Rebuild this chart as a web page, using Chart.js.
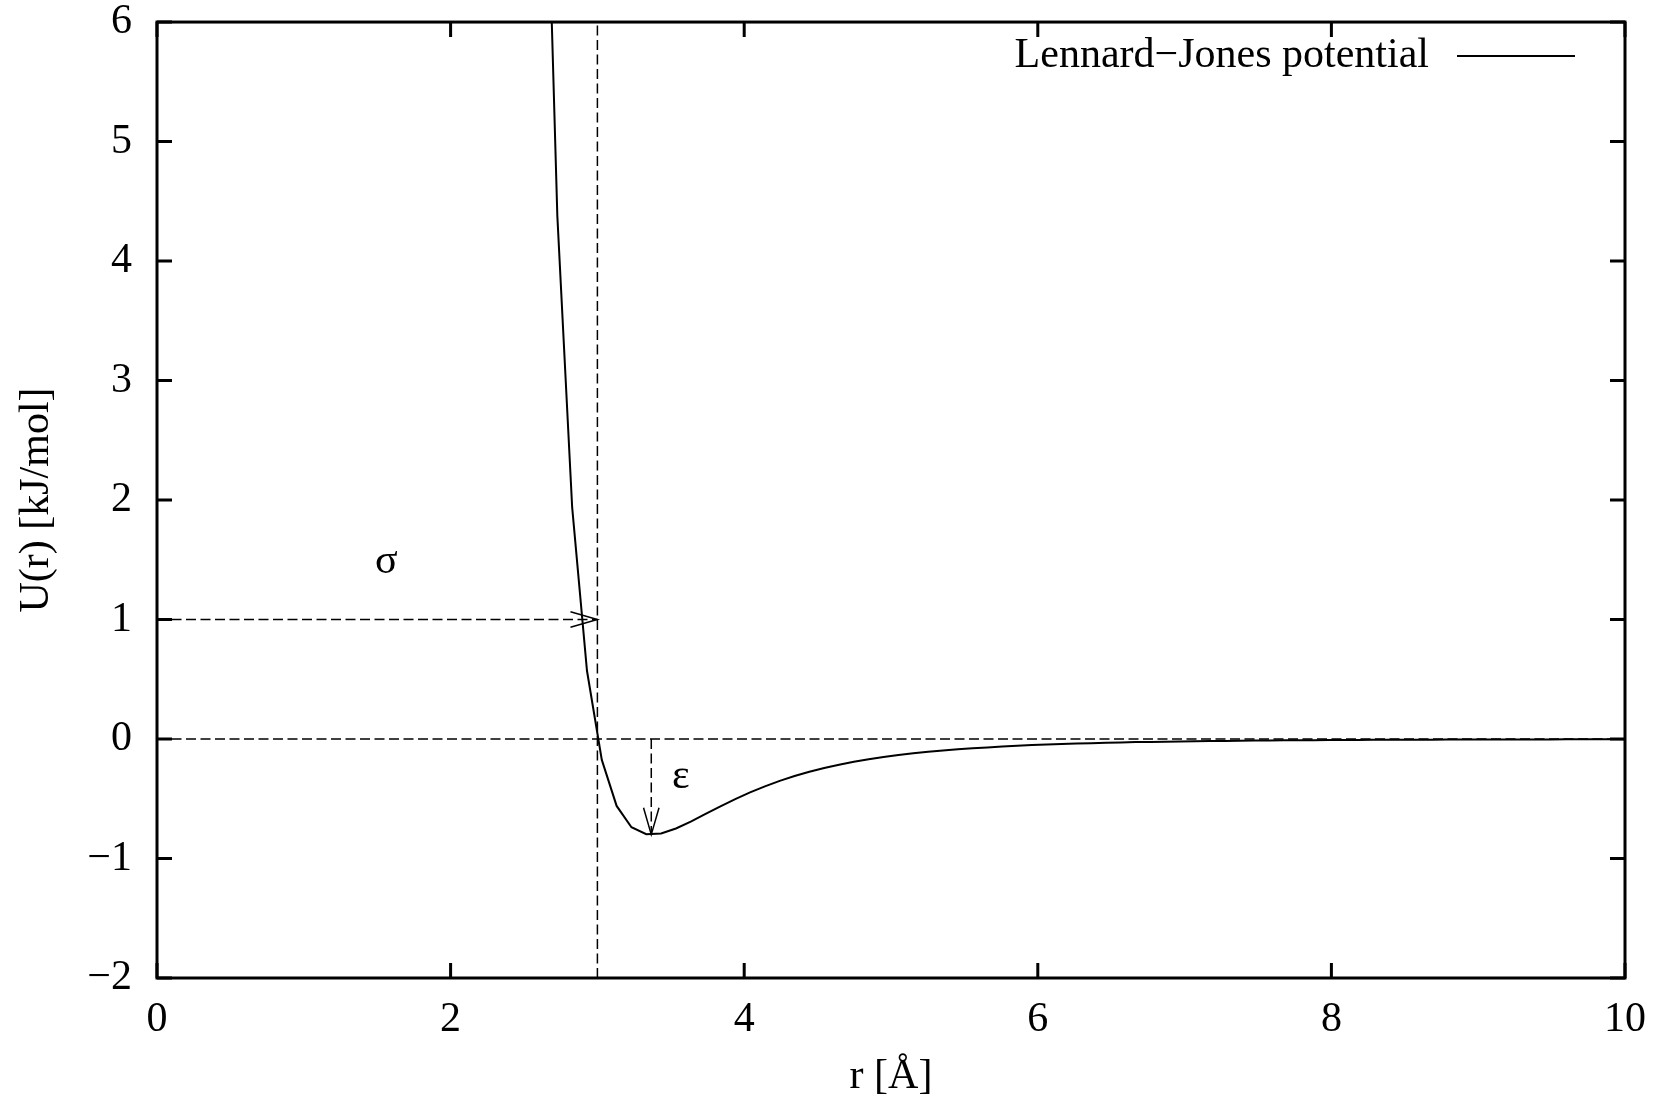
<!DOCTYPE html>
<html>
<head>
<meta charset="utf-8">
<script src="https://cdn.jsdelivr.net/npm/chart.js@4/dist/chart.umd.min.js"></script>
<style>
  html, body { margin: 0; padding: 0; background: #fff; }
  #wrap { width: 1666px; height: 1103px; }
</style>
</head>
<body>
<div id="wrap"><canvas id="ljChart"></canvas></div>
<script>
// Lennard-Jones curve (r in Angstrom, U in kJ/mol)
const rValues = [2.626, 2.727, 2.828, 2.929, 3.030, 3.131, 3.232, 3.333, 3.434, 3.535,
  3.636, 3.737, 3.838, 3.939, 4.040, 4.141, 4.242, 4.343, 4.444, 4.545,
  4.646, 4.747, 4.848, 4.949, 5.051, 5.152, 5.253, 5.354, 5.455, 5.556,
  5.657, 5.758, 5.859, 5.960, 6.061, 6.162, 6.263, 6.364, 6.465, 6.566,
  6.667, 6.768, 6.869, 6.970, 7.071, 7.172, 7.273, 7.374, 7.475, 7.576,
  7.677, 7.778, 7.879, 7.980, 8.081, 8.182, 8.283, 8.384, 8.485, 8.586,
  8.687, 8.788, 8.889, 8.990, 9.091, 9.192, 9.293, 9.394, 9.495, 9.596,
  9.697, 9.798, 9.899, 10.0];
const uValues = [8.71, 4.38, 1.94, 0.571, -0.175, -0.560, -0.738, -0.797, -0.790, -0.749,
  -0.691, -0.627, -0.563, -0.503, -0.447, -0.396, -0.350, -0.310, -0.274, -0.243,
  -0.215, -0.191, -0.170, -0.151, -0.134, -0.120, -0.107, -0.096, -0.086, -0.077,
  -0.070, -0.063, -0.057, -0.051, -0.046, -0.042, -0.038, -0.035, -0.032, -0.029,
  -0.026, -0.024, -0.022, -0.020, -0.019, -0.017, -0.016, -0.0145, -0.0134, -0.0123,
  -0.0114, -0.0105, -0.0098, -0.0090, -0.0084, -0.0078, -0.0072, -0.0067, -0.0063, -0.0058,
  -0.0054, -0.0051, -0.0048, -0.0044, -0.0042, -0.0039, -0.0036, -0.0034, -0.0032, -0.0030,
  -0.0028, -0.0027, -0.0025, -0.0024];

const xTicks = [0, 2, 4, 6, 8, 10];
const yTicks = [-2, -1, 0, 1, 2, 3, 4, 5, 6];

const sigma = 3.0;       // zero crossing
const rMin = 3.367;      // position of the minimum
const epsilon = -0.8;    // depth of the well
const sigmaArrowY = 1;

const seriesLabel = "Lennard\u2212Jones potential";
const FONT = "'Liberation Serif', 'Times New Roman', serif";
const FSIZE = 42;

const curve = rValues.map((r, i) => ({ x: r, y: uValues[i] }));

const dashed = {
  borderColor: "#000",
  borderWidth: 1.5,
  borderDash: [10, 4.5],
  pointRadius: 0,
  showLine: true,
  fill: false
};

function arrowHead(ctx, x0, y0, x1, y1) {
  const ang = Math.atan2(y1 - y0, x1 - x0);
  const len = 28, spread = 0.28;
  ctx.beginPath();
  ctx.moveTo(x1 - len * Math.cos(ang - spread), y1 - len * Math.sin(ang - spread));
  ctx.lineTo(x1, y1);
  ctx.lineTo(x1 - len * Math.cos(ang + spread), y1 - len * Math.sin(ang + spread));
  ctx.stroke();
}

const gnuplotLook = {
  id: "gnuplotLook",
  afterDatasetsDraw(chart) {
    const { ctx, chartArea: a, scales: { x, y } } = chart;
    ctx.save();
    ctx.strokeStyle = "#000";
    ctx.setLineDash([]);

    // arrow heads
    ctx.lineWidth = 1.5;
    arrowHead(ctx, x.getPixelForValue(0), y.getPixelForValue(sigmaArrowY),
      x.getPixelForValue(sigma), y.getPixelForValue(sigmaArrowY));
    arrowHead(ctx, x.getPixelForValue(rMin), y.getPixelForValue(0),
      x.getPixelForValue(rMin), y.getPixelForValue(epsilon));

    // inward tick marks on all four sides
    ctx.lineWidth = 3;
    const tl = 15;
    ctx.beginPath();
    xTicks.forEach(v => {
      const px = x.getPixelForValue(v);
      ctx.moveTo(px, a.bottom); ctx.lineTo(px, a.bottom - tl);
      ctx.moveTo(px, a.top); ctx.lineTo(px, a.top + tl);
    });
    yTicks.forEach(v => {
      const py = y.getPixelForValue(v);
      ctx.moveTo(a.left, py); ctx.lineTo(a.left + tl, py);
      ctx.moveTo(a.right, py); ctx.lineTo(a.right - tl, py);
    });
    ctx.stroke();

    // frame
    ctx.strokeRect(a.left, a.top, a.right - a.left, a.bottom - a.top);

    // labels sigma and epsilon
    ctx.fillStyle = "#000";
    ctx.font = FSIZE + "px " + FONT;
    ctx.textAlign = "left";
    ctx.textBaseline = "alphabetic";
    ctx.fillText("\u03c3", x.getPixelForValue(1.485), y.getPixelForValue(1.389));
    ctx.fillText("\u03b5", x.getPixelForValue(3.508), y.getPixelForValue(-0.41));

    // key in the top right corner
    const ky = a.top + 34;
    ctx.textAlign = "right";
    ctx.textBaseline = "middle";
    ctx.fillText(seriesLabel, a.right - 196, ky);
    ctx.lineWidth = 2;
    ctx.beginPath();
    ctx.moveTo(a.right - 168, ky);
    ctx.lineTo(a.right - 50, ky);
    ctx.stroke();
    ctx.restore();
  }
};

new Chart(document.getElementById("ljChart"), {
  type: "scatter",
  data: {
    datasets: [
      {
        label: seriesLabel,
        data: curve,
        showLine: true,
        borderColor: "#000",
        borderWidth: 2,
        pointRadius: 0,
        tension: 0,
        fill: false
      },
      Object.assign({ data: [{ x: 0, y: 0 }, { x: 10, y: 0 }] }, dashed),
      Object.assign({ data: [{ x: sigma, y: -2 }, { x: sigma, y: 6 }] }, dashed),
      Object.assign({ data: [{ x: 0, y: sigmaArrowY }, { x: sigma, y: sigmaArrowY }] }, dashed),
      Object.assign({ data: [{ x: rMin, y: 0 }, { x: rMin, y: epsilon }] }, dashed)
    ]
  },
  options: {
    responsive: true,
    maintainAspectRatio: false,
    animation: false,
    layout: { padding: { top: 0, right: 41, left: 0, bottom: 0 } },
    plugins: {
      legend: { display: false },
      tooltip: { enabled: false }
    },
    scales: {
      x: {
        type: "linear",
        min: 0,
        max: 10,
        afterBuildTicks: s => { s.ticks = xTicks.map(v => ({ value: v })); },
        afterFit: s => { s.height = 125; },
        grid: { display: false, drawTicks: false },
        border: { display: false },
        ticks: {
          color: "#000",
          padding: 17,
          maxRotation: 0,
          font: { family: FONT, size: FSIZE },
          callback: v => String(v).replace("-", "\u2212")
        },
        title: {
          display: true,
          text: "r [\u00c5]",
          color: "#000",
          font: { family: FONT, size: FSIZE },
          padding: { top: 0, bottom: 1 }
        }
      },
      y: {
        type: "linear",
        min: -2,
        max: 6,
        afterBuildTicks: s => { s.ticks = yTicks.map(v => ({ value: v })); },
        afterFit: s => { s.width = 157; },
        // invisible tick marks only used to push the labels away from the frame
        grid: { display: true, drawOnChartArea: false, drawTicks: true, tickLength: 25, color: "rgba(0,0,0,0)" },
        border: { display: false },
        ticks: {
          color: "#000",
          padding: 0,
          font: { family: FONT, size: FSIZE, lineHeight: 1.05 },
          callback: v => String(v).replace("-", "\u2212")
        },
        title: {
          display: true,
          text: "U(r) [kJ/mol]",
          color: "#000",
          font: { family: FONT, size: FSIZE },
          padding: { top: 12, bottom: 0 }
        }
      }
    }
  },
  plugins: [gnuplotLook]
});
</script>
</body>
</html>
